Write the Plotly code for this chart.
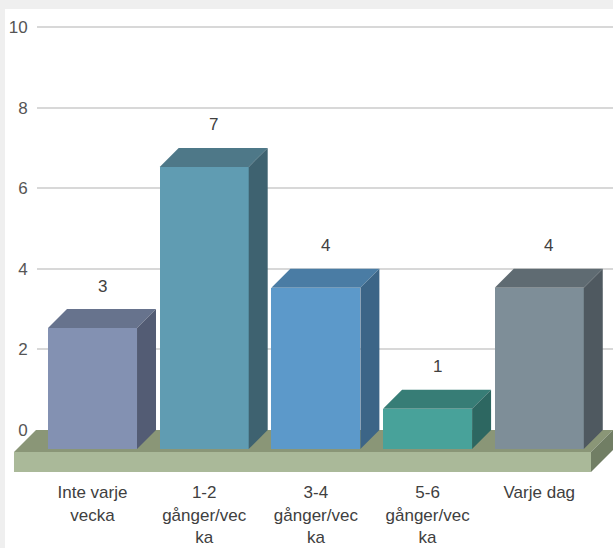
import plotly.graph_objects as go

# ---- data ----
categories = ["Inte varje vecka", "1-2 gånger/vecka", "3-4 gånger/vecka",
              "5-6 gånger/vecka", "Varje dag"]
tick_labels = ["Inte varje<br>vecka", "1-2<br>gånger/vec<br>ka", "3-4<br>gånger/vec<br>ka",
               "5-6<br>gånger/vec<br>ka", "Varje dag"]
values = [3, 7, 4, 1, 4]
y_ticks = [0, 2, 4, 6, 8, 10]

# ---- styles ----
front_colors = ["#8391b2", "#609cb2", "#5c99ca", "#48a29a", "#7e8e98"]
top_colors = ["#67738d", "#4e7888", "#4a7ca4", "#377d76", "#5f6b72"]
side_colors = ["#535c74", "#3e6270", "#3c6587", "#2d6761", "#4f5960"]
floor_top, floor_front, floor_side = "#8a9677", "#aab999", "#717e64"
FONT = "Liberation Sans, Arial, sans-serif"
TXT = "#404040"

W, H = 613, 548
ML, MR, MT, MB = 37, 0, 9, 73
X0, X1 = -0.667, 4.49
Y0, Y1 = -1.1166, 10.4467
BAR_W = 0.797
DX, DY = 0.170, 0.471          # bar depth (x units, y units)
FDX, FDY, FTH = 0.197, 0.546, 0.496   # floor depth and thickness
FLOOR_L, FLOOR_R = -0.676, X1

xs = list(range(len(values)))
xp = lambda x: (x - X0) / (X1 - X0)   # x data -> paper


def path(pts):
    return "M " + " L ".join(f"{a},{b}" for a, b in pts) + " Z"


fig = go.Figure()

# front faces as bars
fig.add_trace(go.Bar(
    x=[x - DX for x in xs], y=values, base=[-DY] * len(values), width=BAR_W,
    marker=dict(color=front_colors, line=dict(width=0)),
    hoverinfo="skip", showlegend=False,
))

# top and side faces
for x, v, tc, sc in zip(xs, values, top_colors, side_colors):
    fl, fr = x - DX - BAR_W / 2, x - DX + BAR_W / 2
    bl, br = x - BAR_W / 2, x + BAR_W / 2
    fig.add_trace(go.Scatter(
        x=[fl, fr, br, bl, fl], y=[v - DY, v - DY, v, v, v - DY],
        fill="toself", fillcolor=tc, mode="lines", line=dict(width=0),
        hoverinfo="skip", showlegend=False))
    fig.add_trace(go.Scatter(
        x=[fr, br, br, fr, fr], y=[-DY, 0, v, v - DY, -DY],
        fill="toself", fillcolor=sc, mode="lines", line=dict(width=0),
        hoverinfo="skip", showlegend=False))

# value labels
for x, v in zip(xs, values):
    fig.add_annotation(x=x - DX / 2, y=v, text=str(v), showarrow=False,
                       yshift=23, yanchor="middle",
                       font=dict(family=FONT, size=17, color=TXT))

plot_w = W - ML - MR
plot_h = H - MT - MB
shapes = [
    # white card
    dict(type="rect", xref="paper", yref="paper", layer="below",
         x0=-(ML - 5) / plot_w, x1=1.01, y0=-(MB + 5) / plot_h, y1=1.0,
         fillcolor="white", line=dict(width=0)),
    # floor top
    dict(type="path", xref="paper", yref="y", layer="below",
         path=path([(xp(FLOOR_L), 0), (xp(FLOOR_R), 0),
                    (xp(FLOOR_R - FDX), -FDY), (xp(FLOOR_L - FDX), -FDY)]),
         fillcolor=floor_top, line=dict(width=0)),
    # floor front
    dict(type="path", xref="paper", yref="y", layer="below",
         path=path([(xp(FLOOR_L - FDX), -FDY), (xp(FLOOR_R - FDX), -FDY),
                    (xp(FLOOR_R - FDX), -FDY - FTH), (xp(FLOOR_L - FDX), -FDY - FTH)]),
         fillcolor=floor_front, line=dict(width=0)),
    # floor side
    dict(type="path", xref="paper", yref="y", layer="below",
         path=path([(xp(FLOOR_R - FDX), -FDY), (xp(FLOOR_R), 0),
                    (xp(FLOOR_R), -FTH), (xp(FLOOR_R - FDX), -FDY - FTH)]),
         fillcolor=floor_side, line=dict(width=0)),
]

fig.update_layout(
    width=W, height=H,
    margin=dict(l=ML, r=MR, t=MT, b=MB, pad=0, autoexpand=False),
    paper_bgcolor="#efefef", plot_bgcolor="white",
    shapes=shapes, showlegend=False, bargap=0,
    xaxis=dict(range=[X0, X1], tickvals=[x - DX for x in xs], ticktext=tick_labels,
               showgrid=False, zeroline=False, showline=False, automargin=False,
               ticks="outside", ticklen=2, tickcolor="rgba(0,0,0,0)",
               tickfont=dict(family=FONT, size=17, color=TXT), fixedrange=True),
    yaxis=dict(range=[Y0, Y1], tickvals=y_ticks, ticktext=[str(t) for t in y_ticks],
               showgrid=True, gridcolor="#d8d8d8", gridwidth=2, automargin=False,
               zeroline=True, zerolinecolor=floor_top, zerolinewidth=1,
               showline=False, ticks="outside", ticklen=5, tickcolor="rgba(0,0,0,0)",
               tickfont=dict(family=FONT, size=17, color="#555555"), fixedrange=True),
)

fig.write_html(
    "out.html",
    config={"displayModeBar": False},
    post_script="document.body.style.margin='0';document.body.style.background='#efefef';",
)
